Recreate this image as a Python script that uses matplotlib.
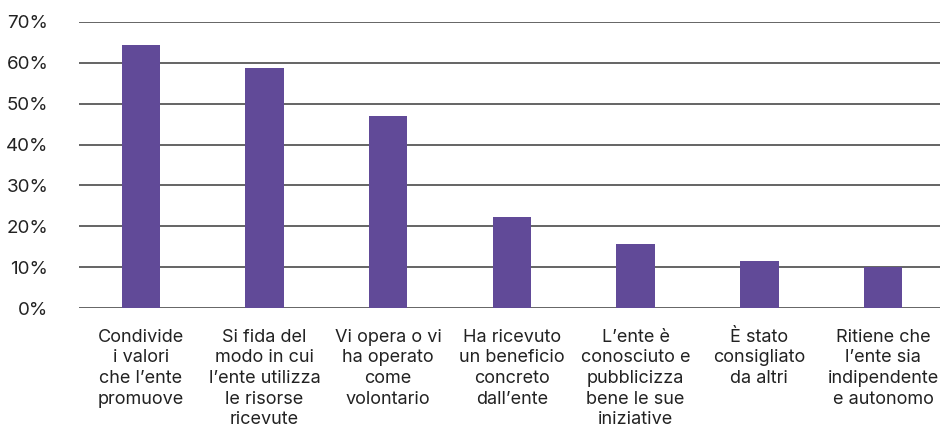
import matplotlib.pyplot as plt
from matplotlib.ticker import PercentFormatter

plt.rcParams['font.family'] = ['Inter', 'DejaVu Sans']

categories = [
    "Condivide\ni valori\nche l\u2019ente\npromuove",
    "Si fida del\nmodo in cui\nl\u2019ente utilizza\nle risorse\nricevute",
    "Vi opera o vi\nha operato\ncome\nvolontario",
    "Ha ricevuto\nun beneficio\nconcreto\ndall\u2019ente",
    "L\u2019ente \u00e8\nconosciuto e\npubblicizza\nbene le sue\niniziative",
    "\u00c8 stato\nconsigliato\nda altri",
    "Ritiene che\nl\u2019ente sia\nindipendente\ne autonomo",
]
values = [64.4, 58.7, 47.0, 22.3, 15.7, 11.5, 10.0]

fig = plt.figure(figsize=(9.4, 4.29), dpi=100)
ax = fig.add_axes([0.084, 0.282, 0.916, 0.667])

x = range(len(categories))
ax.bar(x, values, width=0.31, color="#614A98", zorder=3)

ax.set_ylim(0, 70)
ax.set_xlim(-0.5, 6.46)
ax.set_yticks(range(0, 71, 10))
ax.yaxis.set_major_formatter(PercentFormatter(decimals=0))
ax.grid(axis="y", color="#4a4a4a", linewidth=1.2, zorder=0)

ax.set_xticks(list(x))
ax.set_xticklabels(categories, linespacing=1.28)

for s in ax.spines.values():
    s.set_visible(False)
ax.tick_params(axis="y", length=0, pad=22, labelsize=13.5, labelcolor="#222222")
ax.tick_params(axis="x", length=0, pad=15, labelsize=13, labelcolor="#222222")
for lab in ax.get_xticklabels():
    lab.set_verticalalignment("top")

fig.savefig("out.png", dpi=100)
